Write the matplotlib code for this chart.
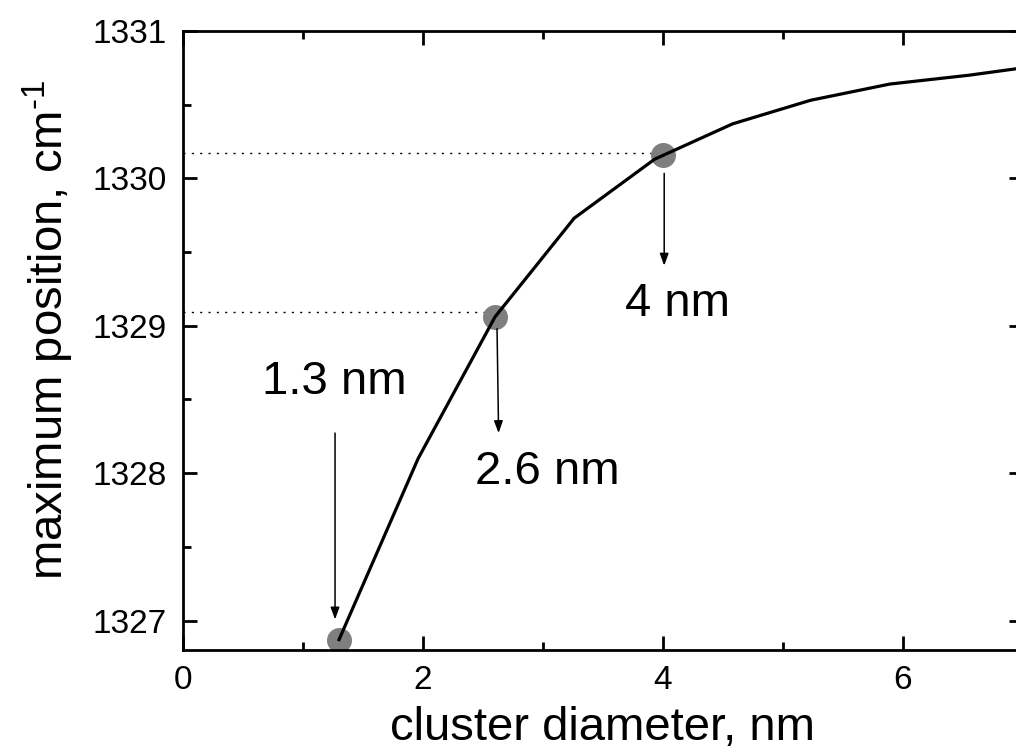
import numpy as np
import matplotlib
matplotlib.use("Agg")
import matplotlib.pyplot as plt

plt.rcParams['font.family'] = ['Liberation Sans', 'DejaVu Sans']
plt.rcParams['mathtext.fontset'] = 'custom'
plt.rcParams['mathtext.rm'] = 'Liberation Sans'
plt.rcParams['mathtext.it'] = 'Liberation Sans'

# curve
diam = [1.3, 1.96, 2.6, 3.26, 3.93, 4.58, 5.23, 5.89, 6.55, 7.0]
peak = [1326.87, 1328.10, 1329.06, 1329.73, 1330.13, 1330.37, 1330.53, 1330.64, 1330.70, 1330.75]

# marked clusters
mark_d = [1.3, 2.6, 4.0]
mark_p = [1326.87, 1329.06, 1330.16]
mark_lbl = ["1.3 nm", "2.6 nm", "4 nm"]

# guide lines to the y axis (for 2.6 and 4 nm)
guide_x = [2.6, 4.0]
guide_y = [1329.095, 1330.17]

# arrows (start, tip) and label spots
arr_start = [(1.267, 1328.272), (2.617, 1328.98), (4.01, 1330.034)]
arr_tip = [(1.267, 1327.007), (2.63, 1328.272), (4.01, 1329.408)]
lbl_pos = [(1.258, 1328.537), (3.033, 1327.925), (4.117, 1329.068)]

fig = plt.figure(figsize=(10.16, 7.51), dpi=100)
ax = fig.add_axes([183/1016, 101/751, 840/1016, 619/751])

for gx, gy in zip(guide_x, guide_y):
    ax.plot([0, gx], [gy, gy], color='black', lw=1.0, linestyle=(0, (1.5, 4.5)), zorder=1)

ax.plot(mark_d, mark_p, 'o', color='#7f7f7f', markersize=18, markeredgewidth=0, zorder=2)
ax.plot(diam, peak, color='black', lw=2.3, zorder=3)

for s, t in zip(arr_start, arr_tip):
    ax.annotate('', xy=t, xytext=s,
                arrowprops=dict(arrowstyle='-|>,head_length=0.6,head_width=0.22',
                                mutation_scale=12, lw=1.1, color='black',
                                shrinkA=0, shrinkB=0))

for (lx, ly), txt in zip(lbl_pos, mark_lbl):
    ax.text(lx, ly, txt, fontsize=34, ha='center', va='baseline')

ax.set_xlim(0, 7)
ax.set_ylim(1326.8, 1331)
ax.set_xticks([0, 2, 4, 6])
ax.set_xticks([1, 3, 5, 7], minor=True)
ax.set_yticks([1327, 1328, 1329, 1330, 1331])
ax.set_yticks([1327.5, 1328.5, 1329.5, 1330.5], minor=True)

ax.tick_params(which='both', direction='in', top=True, right=True, width=2)
ax.tick_params(which='major', length=10, labelsize=24)
ax.tick_params(which='minor', length=6)
ax.tick_params(axis='y', which='minor', right=False)
ax.tick_params(axis='x', which='major', pad=11)
ax.tick_params(axis='y', which='major', pad=12)
for sp in ax.spines.values():
    sp.set_linewidth(2)

ax.set_xlabel('cluster diameter, nm', fontsize=34)
ax.xaxis.label.set_va('baseline')
ax.xaxis.set_label_coords(0.5, -0.145)
ax.set_ylabel(r'maximum position, cm$^{\text{-1}}$', fontsize=34)
ax.yaxis.set_label_coords(-0.127, 0.517)

fig.savefig('out.png', dpi=100)
